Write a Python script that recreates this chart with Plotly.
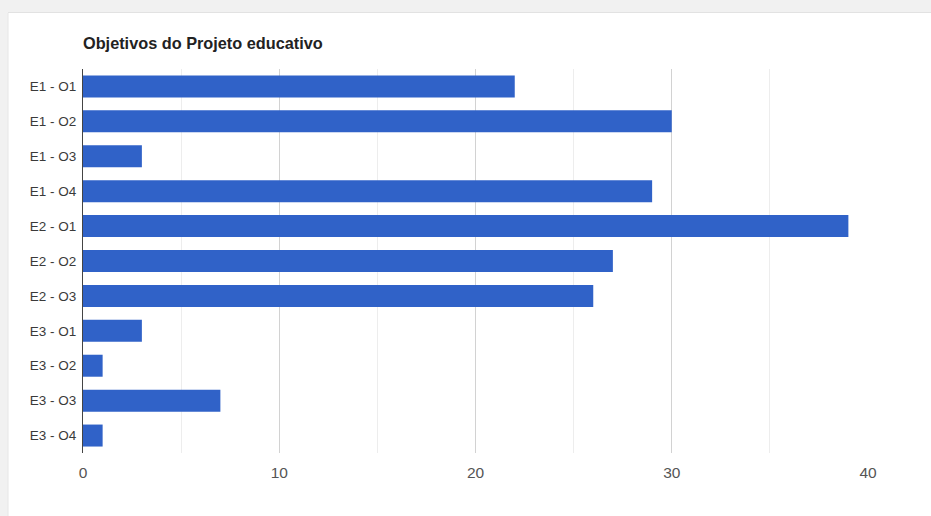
import plotly.graph_objects as go

categories = ["E1 - O1", "E1 - O2", "E1 - O3", "E1 - O4", "E2 - O1", "E2 - O2",
              "E2 - O3", "E3 - O1", "E3 - O2", "E3 - O3", "E3 - O4"]
values = [22, 30, 3, 29, 39, 27, 26, 3, 1, 7, 1]
x_ticks = [0, 10, 20, 30, 40]
title_text = "Objetivos do Projeto educativo"

W, H = 931, 516
L, R, T, B = 83, 63, 69, 63
pw, ph = W - L - R, H - T - B

def px_x(p):
    return (p - L) / pw

def px_y(p):
    return (H - B - p) / ph

fig = go.Figure(go.Bar(
    x=values, y=categories, orientation="h",
    marker=dict(color="#3062c8", line=dict(width=0)),
    width=0.63, hoverinfo="x+y",
))

shapes = [
    dict(type="rect", xref="paper", yref="paper", layer="below",
         x0=px_x(8), x1=px_x(W + 5), y0=px_y(H + 5), y1=px_y(13),
         fillcolor="white", line=dict(width=0)),
    dict(type="line", xref="paper", yref="paper", layer="below",
         x0=px_x(8), x1=px_x(W + 5), y0=px_y(12.5), y1=px_y(12.5),
         line=dict(color="#e2e2e2", width=1)),
    dict(type="line", xref="paper", yref="paper", layer="below",
         x0=px_x(8), x1=px_x(8), y0=px_y(H + 5), y1=px_y(13),
         line=dict(color="#e6e6e6", width=1)),
]

fig.update_layout(
    width=W, height=H,
    margin=dict(l=L, r=R, t=T, b=B),
    paper_bgcolor="#f1f1f1",
    plot_bgcolor="white",
    showlegend=False,
    shapes=shapes,
    title=dict(text=title_text, x=83 / W, xanchor="left",
               y=1 - 43 / H, yanchor="middle",
               font=dict(family="Liberation Sans, Arial, sans-serif", size=16.3,
                         color="#222222", weight="bold")),
    font=dict(family="Liberation Sans, Arial, sans-serif"),
)

fig.update_xaxes(
    range=[0, 40], tickvals=x_ticks, ticktext=[str(v) for v in x_ticks],
    showgrid=True, gridcolor="#d2d2d2", gridwidth=1,
    minor=dict(dtick=5, tick0=0, showgrid=True, gridcolor="#ededed", gridwidth=1),
    zeroline=False, showline=False, ticks="",
    tickfont=dict(size=15.5, color="#555555"),
    ticklabelstandoff=8,
)
fig.update_yaxes(
    categoryorder="array", categoryarray=categories, autorange="reversed",
    showgrid=False, zeroline=False,
    showline=True, linecolor="#444444", linewidth=1,
    ticks="", tickfont=dict(size=13.5, color="#3a3a3a"),
    ticklabelstandoff=3,
)

fig.write_html("out.html")
